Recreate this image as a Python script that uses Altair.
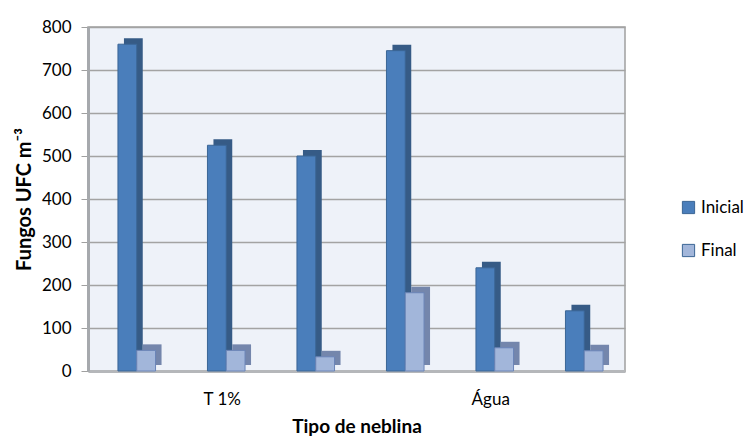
import altair as alt
import pandas as pd

# ---- data ----
tipos = ["T 1%", "T 1%", "T 1%", "Água", "Água", "Água"]
repeticoes = ["1", "2", "3", "1", "2", "3"]
inicial = [760, 525, 500, 745, 240, 140]
final = [48, 48, 33, 182, 54, 47]
series = ["Inicial", "Final"]
y_ticks = [0, 100, 200, 300, 400, 500, 600, 700, 800]

grupos = [f"{t} {r}" for t, r in zip(tipos, repeticoes)]
rows = []
for g, vi, vf in zip(grupos, inicial, final):
    rows.append({"grupo": g, "serie": "Inicial", "valor": vi})
    rows.append({"grupo": g, "serie": "Final", "valor": vf})
df = pd.DataFrame(rows)

# label only the middle group of each type
label_map = {}
for t in dict.fromkeys(tipos):
    idx = [i for i, tt in enumerate(tipos) if tt == t]
    label_map[grupos[idx[len(idx) // 2]]] = t
label_expr = " : ".join(f"datum.value == '{k}' ? '{v}'" for k, v in label_map.items()) + " : ''"

FONT = "Lato"
W, H = 537, 344
P_IN, P_OUT = 0.58, 0.29
step = W / (len(grupos) - P_IN + 2 * P_OUT)
band = step * (1 - P_IN)
DEPTH = 6
SHIFT = 4

x_enc = alt.X(
    "grupo:N",
    sort=grupos,
    scale=alt.Scale(paddingInner=P_IN, paddingOuter=P_OUT),
    title="Tipo de neblina",
    axis=alt.Axis(
        labelExpr=label_expr,
        labelAngle=0,
        ticks=False,
        labelPadding=20,
        labelFontSize=17,
        titlePadding=10,
        titleFontSize=19,
        titleFontWeight="bold",
        domainColor="#B5B7BA",
        domainWidth=3,
        grid=False,
    ),
)
y_enc = alt.Y(
    "valor:Q",
    scale=alt.Scale(domain=[0, 800], nice=False),
    title="Fungos  UFC m⁻³",
    axis=alt.Axis(
        values=y_ticks,
        tickSize=7,
        tickColor="#A0A0A0",
        labelPadding=10,
        labelFontSize=17,
        titleFontSize=20,
        titleFontWeight="bold",
        titlePadding=7,
        domainColor="#A6A9AD",
        domainWidth=3,
        gridColor="#A3A3A3",
        gridWidth=1.6,
    ),
)

shadow = alt.Chart(df).mark_bar(yOffset=-DEPTH).encode(
    x=x_enc,
    xOffset=alt.XOffset(
        "serie:N", sort=series,
        scale=alt.Scale(domain=series, paddingInner=0, range=[SHIFT + DEPTH, SHIFT + DEPTH + band]),
    ),
    y=y_enc,
    color=alt.Color(
        "serie:N",
        sort=series,
        scale=alt.Scale(domain=series, range=["#365B86", "#7486AC"]),
        legend=None,
    ),
)

front = alt.Chart(df).mark_bar(strokeWidth=1).encode(
    x=x_enc,
    xOffset=alt.XOffset(
        "serie:N", sort=series,
        scale=alt.Scale(domain=series, paddingInner=0, range=[SHIFT, SHIFT + band]),
    ),
    y=y_enc,
    color=alt.Color(
        "serie:N",
        sort=series,
        scale=alt.Scale(domain=series, range=["#4A7EBB", "#A2B6DA"]),
        legend=alt.Legend(
            title=None,
            orient="none",
            legendX=592,
            legendY=172,
            symbolType="square",
            symbolSize=150,
            symbolStrokeColor="#3B6695",
            symbolStrokeWidth=1,
            labelFontSize=17,
            rowPadding=25,
            labelOffset=4,
        ),
    ),
    stroke=alt.Stroke(
        "serie:N",
        sort=series,
        scale=alt.Scale(domain=series, range=["#3B6695", "#6B85B8"]),
        legend=None,
    ),
)

chart = (
    alt.layer(shadow, front)
    .resolve_scale(color="independent", xOffset="independent")
    .properties(
        width=W,
        height=H,
        autosize=alt.AutoSizeParams(type="none"),
        padding={"left": 80, "top": 19, "right": 119, "bottom": 65},
    )
    .configure(font=FONT)
    .configure_view(fill="#EEF2F9", stroke="#A0A0A0", strokeWidth=1.5)
    .configure_axis(labelColor="#000000", titleColor="#000000", labelFont=FONT, titleFont=FONT)
    .configure_legend(labelFont=FONT, labelColor="#000000")
)

chart.save("out.html", embed_options={"renderer": "svg", "actions": False})
